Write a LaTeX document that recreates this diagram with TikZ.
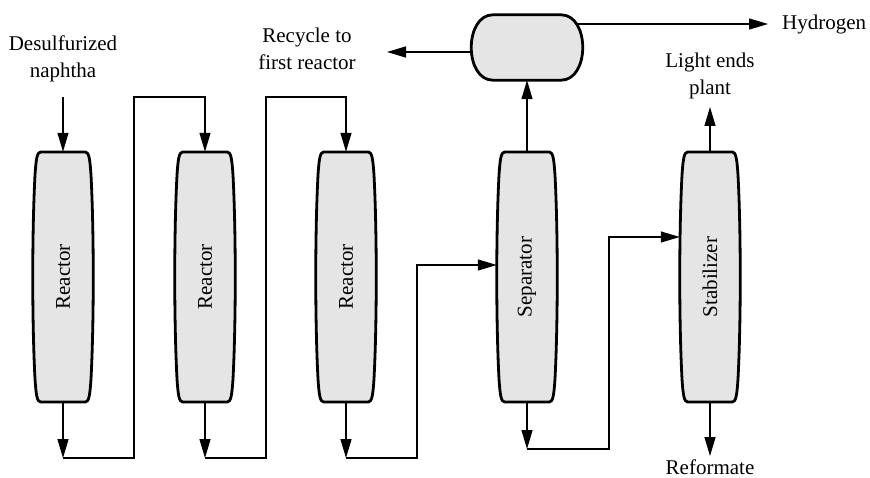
\documentclass[tikz,border=0pt]{standalone}
\usepackage{fontspec}
\setmainfont{Liberation Serif}
\usepackage{graphicx}
\usetikzlibrary{arrows.meta,backgrounds}
\tikzset{
  vessel/.style={minimum width=60pt, minimum height=250pt, inner sep=0pt, font=\fontsize{21}{25}\selectfont},
  drumbox/.style={minimum width=112pt, minimum height=65pt, inner sep=0pt},
  flow/.style={line width=1.3pt, -{Triangle[length=19pt,width=11pt]}},
  pipe/.style={line width=1.3pt},
  shell/.style={line width=2.8pt, fill=black!10, line join=round},
  lbl/.style={font=\fontsize{21}{27}\selectfont, align=center, inner sep=0pt},
}
\newcommand\vesselshape[1]{%
  \draw[shell] ([shift={(-22.5,-125)}]#1.center) -- ([shift={(22.5,-125)}]#1.center)
    .. controls ([shift={(26,-125)}]#1.center) and ([shift={(27,-117)}]#1.center) .. ([shift={(28,-102)}]#1.center)
    .. controls ([shift={(31,-45)}]#1.center) and ([shift={(31,45)}]#1.center) .. ([shift={(28,102)}]#1.center)
    .. controls ([shift={(27,117)}]#1.center) and ([shift={(26,125)}]#1.center) .. ([shift={(22.5,125)}]#1.center)
    -- ([shift={(-22.5,125)}]#1.center)
    .. controls ([shift={(-26,125)}]#1.center) and ([shift={(-27,117)}]#1.center) .. ([shift={(-28,102)}]#1.center)
    .. controls ([shift={(-31,45)}]#1.center) and ([shift={(-31,-45)}]#1.center) .. ([shift={(-28,-102)}]#1.center)
    .. controls ([shift={(-27,-117)}]#1.center) and ([shift={(-26,-125)}]#1.center) .. cycle;}
\begin{document}
\begin{tikzpicture}[x=1pt,y=-1pt]
\useasboundingbox (0,0) rectangle (870,478);

% vessels
\node[vessel] (r1) at (63,277) {\rotatebox{90}{Reactor}};
\node[vessel] (r2) at (205,277) {\rotatebox{90}{Reactor}};
\node[vessel] (r3) at (346,277) {\rotatebox{90}{Reactor}};
\node[vessel] (sep) at (527,277) {\rotatebox{90}{Separator}};
\node[vessel] (stab) at (710,277) {\rotatebox{90}{Stabilizer}};
\node[drumbox] (drum) at (527,47.5) {};

\begin{scope}[on background layer]
  \vesselshape{r1}
  \vesselshape{r2}
  \vesselshape{r3}
  \vesselshape{sep}
  \vesselshape{stab}
  \draw[shell] ([shift={(-34,0)}]drum.north) -- ([shift={(34,0)}]drum.north)
    .. controls ([shift={(63,0)}]drum.north) and ([shift={(63,0)}]drum.south) .. ([shift={(34,0)}]drum.south)
    -- ([shift={(-34,0)}]drum.south)
    .. controls ([shift={(-63,0)}]drum.south) and ([shift={(-63,0)}]drum.north) .. cycle;
\end{scope}

% labels
\node[lbl] (feed) at (63,58.5) {Desulfurized\\naphtha};
\node[lbl] (recycle) at (307,48.5) {Recycle to\\first reactor};
\node[lbl, anchor=west] (h2) at (782,24) {Hydrogen};
\node[lbl] (light) at (710,75.5) {Light ends\\plant};
\node[lbl] (reform) at (710,467) {Reformate};

% coordinates
\coordinate (f0) at (63,97);
\coordinate (b1) at (63,458);
\coordinate (t1) at (134,97);
\coordinate (b2) at (205,458);
\coordinate (t2) at (266,97);
\coordinate (b3) at (346,458);
\coordinate (t3) at (417,265);
\coordinate (b4) at (527,449);
\coordinate (t4) at (609,237);
\coordinate (rc) at (387,52);
\coordinate (h0) at (576,24);
\coordinate (h1) at (768,24);
\coordinate (le) at (710,107);
\coordinate (rf) at (710,456);

% connectors
\draw[flow] (f0) -- (r1.north);
\draw[flow] (r1.south) -- (b1);
\draw[flow] (b1) -| (t1) -| (r2.north);
\draw[flow] (r2.south) -- (b2);
\draw[flow] (b2) -| (t2) -| (r3.north);
\draw[flow] (r3.south) -- (b3);
\draw[flow] (b3) -| (t3) -- (t3 -| sep.west);
\draw[flow] (sep.south) -- (b4);
\draw[flow] (b4) -| (t4) -- (t4 -| stab.west);
\draw[flow] (sep.north) -- (drum.south);
\draw[flow] ([shift={(0,4.5)}]drum.west) -- (rc);
\draw[flow] (h0) -- (h1);
\draw[flow] (stab.north) -- (le);
\draw[flow] (stab.south) -- (rf);
\end{tikzpicture}
\end{document}
